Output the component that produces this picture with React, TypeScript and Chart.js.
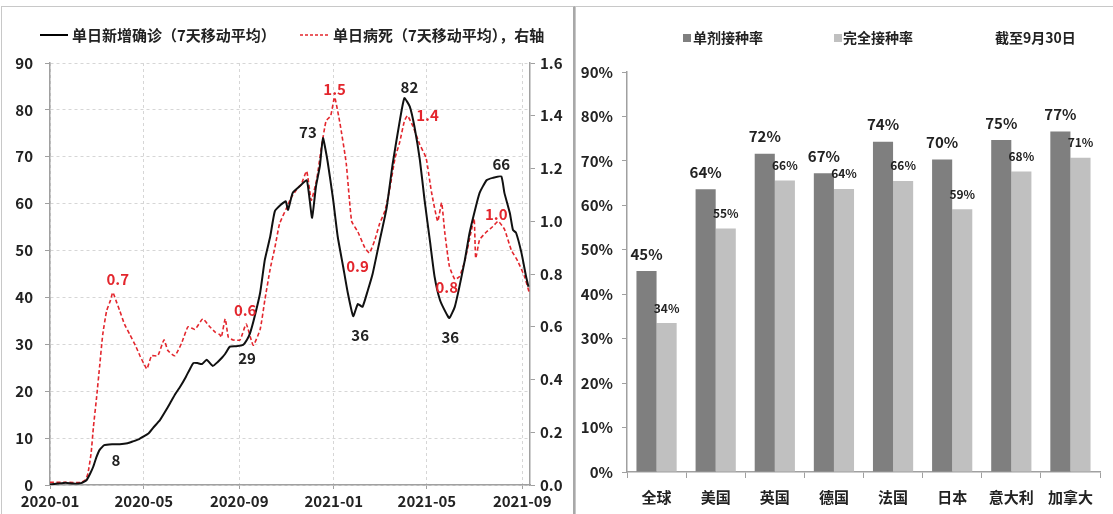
import React, { useEffect, useRef } from "react";
import { Chart, registerables } from "chart.js";

Chart.register(...registerables);

// ---------- Left chart data (day index since 2020-01-01) ----------
const confirmedDays = [0, 10, 20, 30, 40, 47, 52, 56, 60, 64, 70, 80, 90, 100, 107, 115, 120, 127, 133, 142, 148, 155, 162, 168, 175, 180, 185, 190, 196, 202, 210, 216, 222, 226, 232, 240, 249, 254, 258, 264, 271, 277, 284, 290, 298, 304, 307, 313, 322, 331, 334, 338, 343, 348, 352, 358, 365, 371, 378, 384, 391, 397, 403, 410, 416, 425, 434, 442, 451, 457, 464, 470, 477, 483, 490, 496, 503, 511, 515, 522, 528, 535, 541, 548, 554, 563, 571, 582, 586, 593, 597, 601, 608, 614, 617];
const confirmedValues = [0.1, 0.3, 0.5, 0.3, 0.4, 1, 2.5, 4, 6, 7.5, 8.5, 8.7, 8.7, 8.9, 9.3, 9.8, 10.3, 11, 12.2, 13.9, 15.5, 17.5, 19.5, 21, 23, 24.6, 26, 26, 25.8, 26.7, 25.4, 26.2, 27.2, 28, 29.5, 29.6, 29.9, 31, 32.4, 36, 41, 48, 53, 58.4, 59.8, 60.5, 58.7, 62.3, 63.7, 65, 62, 57, 63.7, 68, 74, 69, 61, 53, 46.6, 41, 36, 38.6, 38, 41.6, 45, 52, 59, 68.6, 77.6, 82.5, 80.7, 76.4, 69.3, 60.8, 52, 44.4, 39.4, 36.6, 35.6, 38, 42.3, 48, 53.7, 58.6, 62.3, 65, 65.5, 65.8, 62.3, 58, 54.4, 53.8, 49.5, 44.4, 42.3];

const deathDays = [0, 20, 40, 46, 49, 53, 56, 60, 64, 68, 73, 78, 81, 85, 90, 96, 103, 110, 116, 121, 125, 131, 139, 147, 152, 161, 170, 178, 187, 197, 206, 213, 219, 221, 226, 230, 236, 245, 253, 262, 271, 277, 284, 290, 296, 305, 311, 318, 324, 331, 337, 344, 350, 356, 362, 367, 374, 382, 389, 397, 406, 412, 419, 425, 432, 438, 445, 451, 457, 461, 468, 477, 485, 492, 500, 505, 509, 515, 522, 528, 535, 543, 547, 549, 554, 563, 571, 578, 586, 595, 603, 612, 618];
const deathValues = [0.01, 0.01, 0.01, 0.02, 0.045, 0.12, 0.22, 0.33, 0.45, 0.57, 0.66, 0.7, 0.73, 0.7, 0.66, 0.61, 0.57, 0.53, 0.49, 0.46, 0.44, 0.49, 0.49, 0.55, 0.51, 0.49, 0.54, 0.6, 0.59, 0.63, 0.6, 0.58, 0.57, 0.56, 0.63, 0.56, 0.55, 0.55, 0.61, 0.53, 0.59, 0.7, 0.82, 0.9, 0.99, 1.05, 1.09, 1.12, 1.14, 1.19, 1.08, 1.16, 1.28, 1.38, 1.4, 1.47, 1.37, 1.22, 1.0, 0.96, 0.9, 0.88, 0.93, 0.99, 1.04, 1.12, 1.24, 1.3, 1.38, 1.4, 1.36, 1.29, 1.24, 1.11, 1.0, 1.07, 0.96, 0.83, 0.78, 0.79, 0.85, 0.96, 1.01, 0.86, 0.93, 0.96, 0.98, 1.0, 0.97, 0.89, 0.85, 0.79, 0.73];

const dateTickDays = [0, 121, 244, 366, 486, 609];
const dateTickLabels = ["2020-01", "2020-05", "2020-09", "2021-01", "2021-05", "2021-09"];

const leftLegendLabels = ["单日新增确诊（7天移动平均）", "单日病死（7天移动平均），右轴"];

// Peak annotations: series (0 = confirmed, 1 = deaths), day, text, pixel offset
const peakSeries = [0, 1, 1, 0, 0, 1, 0, 1, 0, 1, 0, 1, 0, 1];
const peakDays = [80, 81, 253, 249, 352, 367, 391, 412, 457, 461, 515, 522, 582, 578];
const peakTexts = ["8", "0.7", "0.6", "29", "73", "1.5", "36", "0.9", "82", "1.4", "36", "0.8", "66", "1.0"];
const peakDx = [4, 5, -1, 4, -15, 0, 7, -12, 5, 20, 1, -8, 0, -2];
const peakDy = [16, -13, -14, 13, -6, -8, 19, 13, -11, 0, 19, 8, -12, -7];

// ---------- Right chart data ----------
const countries = ["全球", "美国", "英国", "德国", "法国", "日本", "意大利", "加拿大"];
const singleDose = [45.2, 63.6, 71.6, 67.2, 74.3, 70.3, 74.7, 76.6];
const fullDose = [33.5, 54.8, 65.6, 63.7, 65.5, 59.1, 67.6, 70.7];
const rightLegendLabels = ["单剂接种率", "完全接种率"];
const rightNote = "截至9月30日";

const FONT = "'Noto Sans CJK SC', 'Noto Sans', sans-serif";
const RED = "#e3262d";
const DARK = "#7f7f7f";
const LIGHT = "#c0c0c0";

function toPoints(xs: number[], ys: number[]) {
  return xs.map((x, i) => ({ x, y: ys[i] }));
}

function LeftChart() {
  const ref = useRef<HTMLCanvasElement>(null);
  useEffect(() => {
    const legendPlugin = {
      id: "leftLegend",
      afterDraw(chart: any) {
        const ctx = chart.ctx;
        ctx.save();
        ctx.font = `bold 15px ${FONT}`;
        ctx.textBaseline = "middle";
        const y = 28;
        ctx.strokeStyle = "#000";
        ctx.lineWidth = 2;
        ctx.setLineDash([]);
        ctx.beginPath();
        ctx.moveTo(38, y);
        ctx.lineTo(66, y);
        ctx.stroke();
        ctx.fillStyle = "#222";
        ctx.fillText(leftLegendLabels[0], 70, y);
        ctx.strokeStyle = RED;
        ctx.lineWidth = 1.6;
        ctx.setLineDash([3, 2]);
        ctx.beginPath();
        ctx.moveTo(298, y);
        ctx.lineTo(328, y);
        ctx.stroke();
        ctx.setLineDash([]);
        ctx.fillText(leftLegendLabels[1], 331, y);
        ctx.restore();
      },
    };
    const peakPlugin = {
      id: "peaks",
      afterDatasetsDraw(chart: any) {
        const ctx = chart.ctx;
        const xs = chart.scales.x;
        ctx.save();
        ctx.font = `bold 15px ${FONT}`;
        ctx.textAlign = "center";
        ctx.textBaseline = "middle";
        peakDays.forEach((d, i) => {
          const s = peakSeries[i];
          const days = s === 0 ? confirmedDays : deathDays;
          const vals = s === 0 ? confirmedValues : deathValues;
          const v = vals[days.indexOf(d)];
          const ys = s === 0 ? chart.scales.y : chart.scales.y1;
          const px = xs.getPixelForValue(d) + peakDx[i];
          const py = ys.getPixelForValue(v) + peakDy[i];
          ctx.fillStyle = s === 0 ? "#222" : RED;
          ctx.fillText(peakTexts[i], px, py);
        });
        ctx.restore();
      },
    };
    const chart = new Chart(ref.current!, {
      type: "line",
      data: {
        datasets: [
          {
            label: leftLegendLabels[0],
            data: toPoints(confirmedDays, confirmedValues),
            borderColor: "#111",
            borderWidth: 2,
            pointRadius: 0,
            tension: 0.15,
            yAxisID: "y",
          },
          {
            label: leftLegendLabels[1],
            data: toPoints(deathDays, deathValues),
            borderColor: RED,
            borderWidth: 1.6,
            borderDash: [4, 2.5],
            pointRadius: 0,
            tension: 0.15,
            yAxisID: "y1",
          },
        ],
      },
      options: {
        animation: false,
        responsive: false,
        maintainAspectRatio: false,
        layout: { padding: { top: 56, left: 0, right: 0, bottom: 0 } },
        plugins: { legend: { display: false }, tooltip: { enabled: false } },
        scales: {
          x: {
            type: "linear",
            min: 0,
            max: 619,
            afterBuildTicks: (scale: any) => {
              scale.ticks = dateTickDays.map((v) => ({ value: v }));
            },
            afterFit: (scale: any) => {
              scale.height = 29;
            },
            ticks: {
              autoSkip: false,
              maxRotation: 0,
              padding: 3,
              color: "#222",
              font: { family: FONT, size: 15, weight: "bold" },
              callback: (v: any) => dateTickLabels[dateTickDays.indexOf(Number(v))] ?? "",
            },
            grid: { color: "#d6d6d6", tickLength: 4, tickColor: "#a0a0a0", tickBorderDash: [] },
            border: { color: "#a0a0a0", width: 1.5, dash: [3, 3] },
          },
          y: {
            position: "left",
            min: 0,
            max: 90,
            afterFit: (scale: any) => {
              scale.width = 48;
            },
            ticks: {
              stepSize: 10,
              padding: 12,
              color: "#222",
              font: { family: FONT, size: 15, weight: "bold" },
            },
            grid: { color: "#d6d6d6", tickLength: 5, tickColor: "#a0a0a0", tickBorderDash: [] },
            border: { color: "#a0a0a0", width: 1.5, dash: [3, 3] },
          },
          y1: {
            position: "right",
            min: 0,
            max: 1.6,
            afterFit: (scale: any) => {
              scale.width = 43;
            },
            ticks: {
              stepSize: 0.2,
              padding: 5,
              color: "#222",
              font: { family: FONT, size: 15, weight: "bold" },
              callback: (v: any) => Number(v).toFixed(1),
            },
            grid: { drawOnChartArea: false, tickLength: 5, tickColor: "#a0a0a0" },
            border: { color: "#a0a0a0", width: 1.5 },
          },
        },
      },
      plugins: [legendPlugin, peakPlugin],
    } as any);
    return () => chart.destroy();
  }, []);
  return <canvas ref={ref} width={571} height={507} style={{ display: "block" }} />;
}

function RightChart() {
  const ref = useRef<HTMLCanvasElement>(null);
  useEffect(() => {
    const legendPlugin = {
      id: "rightLegend",
      afterDraw(chart: any) {
        const ctx = chart.ctx;
        ctx.save();
        ctx.font = `bold 14px ${FONT}`;
        ctx.textBaseline = "middle";
        const y = 31;
        ctx.fillStyle = DARK;
        ctx.fillRect(107, y - 4, 8, 8);
        ctx.fillStyle = "#222";
        ctx.fillText(rightLegendLabels[0], 117, y);
        ctx.fillStyle = LIGHT;
        ctx.fillRect(258, y - 4, 8, 8);
        ctx.fillStyle = "#222";
        ctx.fillText(rightLegendLabels[1], 267, y);
        ctx.fillText(rightNote, 419, y);
        ctx.restore();
      },
    };
    const labelPlugin = {
      id: "barLabels",
      afterDatasetsDraw(chart: any) {
        const ctx = chart.ctx;
        ctx.save();
        ctx.textAlign = "center";
        ctx.textBaseline = "middle";
        chart.data.datasets.forEach((ds: any, di: number) => {
          const meta = chart.getDatasetMeta(di);
          ctx.font = di === 0 ? `bold 15px ${FONT}` : `bold 12px ${FONT}`;
          ctx.fillStyle = "#222";
          meta.data.forEach((el: any, i: number) => {
            ctx.fillText(Math.round(ds.data[i]) + "%", el.x, el.y - (di === 0 ? 17 : 15));
          });
        });
        ctx.restore();
      },
    };
    const chart = new Chart(ref.current!, {
      type: "bar",
      data: {
        labels: countries,
        datasets: [
          { label: rightLegendLabels[0], data: singleDose, backgroundColor: DARK, categoryPercentage: 0.68, barPercentage: 1 },
          { label: rightLegendLabels[1], data: fullDose, backgroundColor: LIGHT, categoryPercentage: 0.68, barPercentage: 1 },
        ],
      },
      options: {
        animation: false,
        responsive: false,
        maintainAspectRatio: false,
        layout: { padding: { top: 65, left: 0, right: 13, bottom: 0 } },
        plugins: { legend: { display: false }, tooltip: { enabled: false } },
        scales: {
          x: {
            afterFit: (scale: any) => {
              scale.height = 42;
            },
            ticks: {
              padding: 10,
              color: "#222",
              font: { family: FONT, size: 15, weight: "bold" },
            },
            grid: { drawOnChartArea: false, offset: true, tickLength: 6, tickColor: "#a0a0a0" },
            border: { color: "#a0a0a0", width: 1.5 },
          },
          y: {
            min: 0,
            max: 90,
            afterFit: (scale: any) => {
              scale.width = 51;
            },
            ticks: {
              stepSize: 10,
              padding: 9,
              color: "#222",
              font: { family: FONT, size: 15, weight: "bold" },
              callback: (v: any) => v + "%",
            },
            grid: { drawOnChartArea: false, tickLength: 5, tickColor: "#a0a0a0" },
            border: { color: "#a0a0a0", width: 1.5 },
          },
        },
      },
      plugins: [legendPlugin, labelPlugin],
    } as any);
    return () => chart.destroy();
  }, []);
  return <canvas ref={ref} width={537} height={507} style={{ display: "block" }} />;
}

export default function App() {
  return (
    <div style={{ position: "fixed", left: 0, top: 0, width: 1113, height: 514, background: "#fff", overflow: "hidden" }}>
      <div style={{ position: "absolute", left: 1, top: 6, width: 571, height: 507, borderTop: "1px solid #c8c8c8", borderLeft: "1px solid #c8c8c8", borderRight: "2px solid #a8a8a8" }}>
        <LeftChart />
      </div>
      <div style={{ position: "absolute", left: 575, top: 6, width: 537, height: 507, borderTop: "1px solid #c8c8c8", borderLeft: "1px solid #c8c8c8" }}>
        <RightChart />
      </div>
    </div>
  );
}
